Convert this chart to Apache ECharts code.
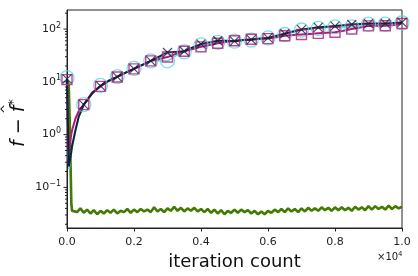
<!DOCTYPE html>
<html><head><meta charset="utf-8">
<script src="https://cdn.jsdelivr.net/npm/echarts@6/dist/echarts.min.js"></script>
<style>html,body{margin:0;padding:0;background:#fff}#c{width:418px;height:276px}</style>
</head><body><div id="c"></div>
<script>
// x tick labels (in units of 1e4 iterations)
const xTickLabels = ['0.0','0.2','0.4','0.6','0.8','1.0'];
// iterations for the three rising curves
const lineIter = [0,20,40,60,100,150,250,350,500,
  750,1000,1250,1500,1750,2000,2250,2500,2750,3000,
  3250,3500,3750,4000,4250,4500,4750,5000,5250,5500,
  5750,6000,6250,6500,6750,7000,7250,7500,7750,8000,
  8250,8500,8750,9000,9250,9500,9750,10000];
const blackVals = [11.4,3.0,0.6,0.25,0.35,0.6,1.2,2.2,3.7,
  6.0,8.4,10.5,12.4,15,17.6,21,24.9,30,36,
  37,38,45,52,56,60,60,59,62,63,
  66,68,75,82,90,98,103,108,111,114,
  118,122,125,127,128,128,131,134];
const magentaVals = [11,2.0,0.5,0.55,0.8,1.2,2.0,2.8,3.7,
  6.3,8.2,10.5,12.4,15,17.6,21,25,27,29.5,
  34,38,42,46,50,54,57,60,62,64,
  65,66,70,75,77,79,81,83,85,87,
  93,100,107,115,116,116,120,128];
const cyanVals = [12,2.5,0.4,0.22,0.3,0.55,1.1,2.1,3.7,
  6.2,8.6,10.8,12.6,15,18,21,25,25,25,
  31,37,43,50,53,56,58,59,61,62,
  65,68,73,79,88,96,100,103,107,110,
  110,110,117,124,124,124,128,132];
// green curve
const greenIter = [0,50,80,110,130,150,
  200,300,400,500,600,700,800,900,1000,
  1100,1200,1300,1400,1500,1600,1700,1800,1900,2000,
  2100,2200,2300,2400,2500,2600,2700,2800,2900,3000,
  3100,3200,3300,3400,3500,3600,3700,3800,3900,4000,
  4100,4200,4300,4400,4500,4600,4700,4800,4900,5000,
  5100,5200,5300,5400,5500,5600,5700,5800,5900,6000,
  6100,6200,6300,6400,6500,6600,6700,6800,6900,7000,
  7100,7200,7300,7400,7500,7600,7700,7800,7900,8000,
  8100,8200,8300,8400,8500,8600,8700,8800,8900,9000,
  9100,9200,9300,9400,9500,9600,9700,9800,9900,10000];
const greenVals = [11,9,2,0.2,0.05,0.036,
  0.039,0.034,0.040,0.033,0.038,0.032,0.037,0.031,0.036,
  0.032,0.037,0.033,0.038,0.032,0.036,0.034,0.039,0.033,0.038,
  0.034,0.039,0.035,0.038,0.034,0.042,0.035,0.039,0.034,0.040,
  0.036,0.043,0.036,0.041,0.035,0.040,0.036,0.041,0.035,0.039,
  0.034,0.039,0.033,0.038,0.032,0.037,0.031,0.036,0.033,0.038,
  0.033,0.038,0.034,0.037,0.032,0.036,0.031,0.035,0.031,0.036,
  0.033,0.038,0.034,0.039,0.034,0.040,0.035,0.039,0.034,0.040,
  0.035,0.041,0.036,0.040,0.036,0.042,0.037,0.041,0.036,0.042,
  0.037,0.042,0.037,0.041,0.036,0.043,0.038,0.042,0.037,0.044,
  0.038,0.044,0.039,0.043,0.038,0.045,0.039,0.044,0.040,0.043];
const markerStep = 500;

const C_BLACK = '#14213d', C_MAG = '#b3197a', C_CYAN = '#5fd8de', C_GREEN = '#437a00';
const pairs = (xs, ys) => xs.map((x, i) => [x, ys[i]]);
const markers = (xs, ys) => pairs(xs, ys).filter(p => p[0] % markerStep === 0);

// y axis ticks (major + minor), drawn outward
const yTicks = [];
for (let e = -2; e <= 2; e++) {
  for (let m = 1; m <= 9; m++) {
    const v = m * Math.pow(10, e);
    if (v >= 0.017 && v <= 230) yTicks.push([0, v, m === 1 ? 3.5 : 2]);
  }
}

const chart = echarts.init(document.getElementById('c'), null, {renderer: 'canvas'});
const font = 'DejaVu Sans';
chart.setOption({
  animation: false,
  backgroundColor: '#fff',
  grid: {left: 67, right: 16, top: 10, bottom: 48, show: true, borderColor: '#222', borderWidth: 1, backgroundColor: 'transparent'},
  xAxis: {
    type: 'value', min: 0, max: 10000, interval: 2000,
    axisLine: {lineStyle: {color: '#222'}},
    axisTick: {show: true, length: 3.5, lineStyle: {color: '#222'}},
    splitLine: {show: false},
    axisLabel: {color: '#222', fontFamily: font, fontSize: 11, margin: 9,
      formatter: v => xTickLabels[Math.round(v / 2000)]},
    name: 'iteration count', nameLocation: 'middle', nameGap: 22,
    nameTextStyle: {fontFamily: font, fontSize: 18, color: '#111'}
  },
  yAxis: {
    type: 'log', logBase: 10, min: 0.017, max: 230,
    axisLine: {lineStyle: {color: '#222'}},
    axisTick: {show: false},
    splitLine: {show: false},
    axisLabel: {
      color: '#222', fontFamily: font, margin: 6,
      formatter: v => {
        const e = Math.log10(v);
        if (Math.abs(e - Math.round(e)) > 1e-6) return '';
        const n = Math.round(e);
        return '{b|10}{s|' + (n < 0 ? '\u2212' + (-n) : n) + '}';
      },
      rich: {b: {fontFamily: font, fontSize: 11, color: '#222'},
             s: {fontFamily: font, fontSize: 8, color: '#222', verticalAlign: 'bottom', padding: [0, 0, 7, 0]}}
    }
  },
  graphic: [
    {type: 'text', left: 377, top: 251, style: {
      text: '{a|\u00d710}{s|4}', fill: '#222',
      rich: {a: {fontFamily: font, fontSize: 10, fill: '#222'}, s: {fontFamily: font, fontSize: 7, fill: '#222', padding: [0, 0, 6, 0]}}}},
    {type: 'text', x: 19, y: 123, rotation: Math.PI / 2, style: {
      text: '{f|f}{m| \u2212 }{f|f}{s|*}', align: 'center', verticalAlign: 'middle',
      rich: {f: {fontFamily: font, fontStyle: 'italic', fontSize: 19, fill: '#111'},
             m: {fontFamily: font, fontSize: 19, fill: '#111'},
             s: {fontFamily: font, fontSize: 13, fill: '#111', padding: [0, 0, 10, 0]}}}},
    {type: 'text', x: 7, y: 109, rotation: Math.PI / 2, style: {
      text: '^', align: 'center', verticalAlign: 'middle', fontFamily: font, fontSize: 12, fill: '#111'}}
  ],
  series: [
    {type: 'custom', coordinateSystem: 'cartesian2d', silent: true, clip: false, z: 5,
     data: yTicks,
     renderItem: (params, api) => {
       const p = api.coord([0, api.value(1)]);
       return {type: 'line', shape: {x1: p[0] - api.value(2), y1: p[1], x2: p[0], y2: p[1]},
               style: {stroke: '#222', lineWidth: 1}};
     }},
    {type: 'line', data: pairs(greenIter, greenVals), symbol: 'none',
     lineStyle: {color: C_GREEN, width: 2.6}, z: 2},
    {type: 'line', data: pairs(lineIter, cyanVals), symbol: 'none',
     lineStyle: {color: C_CYAN, width: 1.5}, z: 2},
    {type: 'line', data: pairs(lineIter, magentaVals), symbol: 'none',
     lineStyle: {color: C_MAG, width: 2}, z: 3},
    {type: 'line', data: pairs(lineIter, blackVals), symbol: 'none',
     lineStyle: {color: C_BLACK, width: 2}, z: 4},
    {type: 'scatter', data: markers(lineIter, cyanVals), symbol: 'circle', symbolSize: 14,
     itemStyle: {color: 'rgba(0,0,0,0)', borderColor: C_CYAN, borderWidth: 1.3}, z: 6},
    {type: 'scatter', data: markers(lineIter, magentaVals), symbol: 'rect', symbolSize: 10,
     itemStyle: {color: 'rgba(0,0,0,0)', borderColor: C_MAG, borderWidth: 1.4}, z: 6},
    {type: 'scatter', data: markers(lineIter, blackVals), symbol: 'path://M0 0L10 10M10 0L0 10', symbolSize: 9,
     itemStyle: {color: 'rgba(0,0,0,0)', borderColor: C_BLACK, borderWidth: 1.2}, z: 7}
  ]
});
</script></body></html>
